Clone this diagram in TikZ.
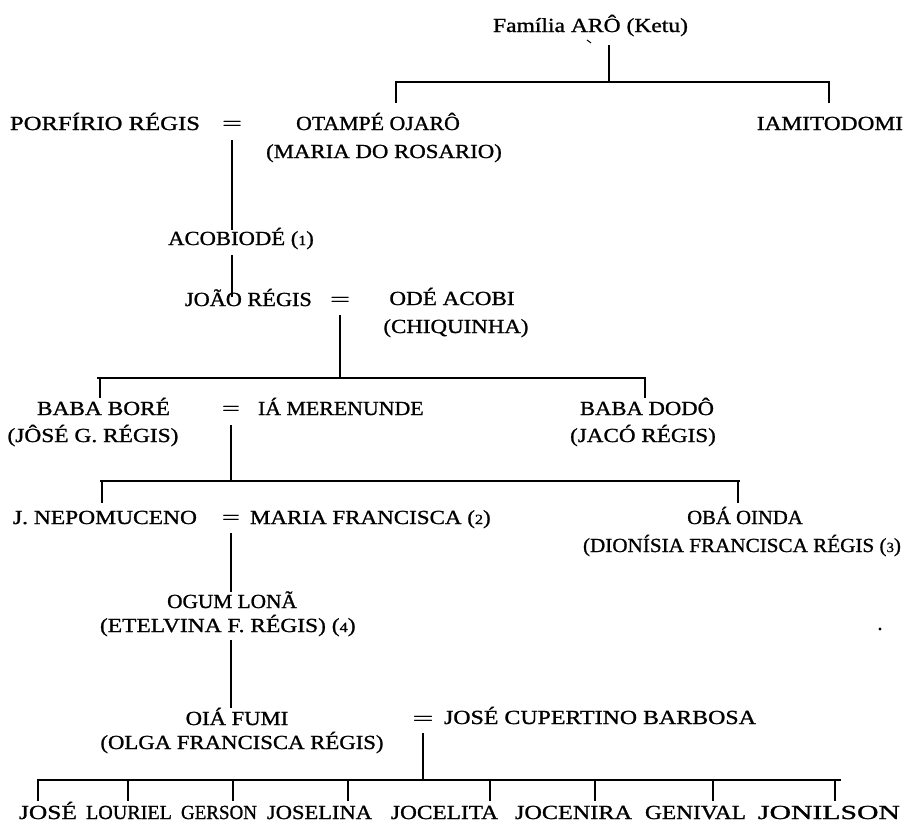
\documentclass[tikz,border=0pt]{standalone}
\usepackage{fontspec}
\setmainfont{Liberation Serif}[FakeBold=1.0]
\usepackage{graphicx}
\newsavebox{\fitbox}
\newlength{\fitl}
% \fitw: stretch towards the target width, halfway from a common 1.13 stretch
\newcommand{\fitw}[2]{\sbox{\fitbox}{#2}\setlength{\fitl}{\wd\fitbox}\pgfmathsetmacro{\fitr}{0.5*#1/\fitl+0.565}\scalebox{\fitr}[1]{\usebox{\fitbox}}}
% \fitx: stretch to exactly the target width
\newcommand{\fitx}[2]{\sbox{\fitbox}{#2}\setlength{\fitl}{\wd\fitbox}\pgfmathsetmacro{\fitr}{#1/\fitl}\scalebox{\fitr}[1]{\usebox{\fitbox}}}
\newcommand{\nm}[1]{{\fontsize{14}{14}\selectfont #1}}
\tikzset{
  lbl/.style={inner sep=0pt, outer sep=0pt, anchor=base, font=\fontsize{20}{22}\selectfont},
  ln/.style={line width=1.3pt, line cap=butt}
}
\begin{document}
\begin{tikzpicture}[x=1pt,y=-1pt]
\useasboundingbox (0,0) rectangle (905,828);
% ---------- text nodes ----------
\node[lbl, anchor=base west] (fam) at (493,32) {\fitx{195}{Família ARÔ (Ketu)}};
\node[lbl, anchor=base west] (porf) at (10,130) {\fitx{190}{PORFÍRIO RÉGIS}};
\node[lbl] (eqA) at (232,130) {\fitx{20}{=}};
\node[lbl] (otampe) at (378,130) {\fitw{158}{OTAMPÉ OJARÔ}};
\node[lbl] (maria) at (384,158) {\fitw{238}{(MARIA DO ROSARIO)}};
\node[lbl, anchor=base east] (iami) at (903,130) {\fitw{151}{IAMITODOMI}};
\node[lbl] (acob) at (241,245) {\fitw{146}{ACOBIODÉ (\nm{1})}};
\node[lbl, anchor=base west] (joao) at (185,306) {\fitw{125}{JOÃO RÉGIS}};
\node[lbl] (eqB) at (340,306) {\fitx{20}{=}};
\node[lbl] (ode) at (452,305) {\fitw{128}{ODÉ ACOBI}};
\node[lbl] (chiq) at (456,333) {\fitw{147}{(CHIQUINHA)}};
\node[lbl, anchor=base west] (baba1) at (37,415) {\fitx{133}{BABA BORÉ}};
\node[lbl] (jose1) at (93,442) {\fitw{177}{(JÔSÉ G. RÉGIS)}};
\node[lbl] (eqC) at (231,415) {\fitx{18}{=}};
\node[lbl, anchor=base west] (ia) at (258,415) {\fitw{160}{IÁ MERENUNDE}};
\node[lbl, anchor=base west] (baba2) at (580,415) {\fitx{134}{BABA DODÔ}};
\node[lbl] (jaco) at (643,442) {\fitw{149}{(JACÓ RÉGIS)}};
\node[lbl, anchor=base west] (nep) at (13,524) {\fitx{184}{J. NEPOMUCENO}};
\node[lbl] (eqD) at (231,524) {\fitx{18}{=}};
\node[lbl, anchor=base west] (mfr) at (250,524) {\fitw{245}{MARIA FRANCISCA (\nm{2})}};
\node[lbl] (oba) at (745,524) {\fitw{105}{OBÁ OINDA}};
\node[lbl, anchor=base east] (dion) at (901,552) {\fitx{318}{(DIONÍSIA FRANCISCA RÉGIS (\nm{3})}};
\node[lbl] (ogum) at (232,608) {\fitw{122}{OGUM LONÃ}};
\node[lbl, anchor=base west] (etel) at (100,632) {\fitw{265}{(ETELVINA F. RÉGIS) (\nm{4})}};
\node[lbl] (oia) at (237,725) {\fitw{103}{OIÁ FUMI}};
\node[lbl] (olga) at (242,749) {\fitw{285}{(OLGA FRANCISCA RÉGIS)}};
\node[lbl] (eqE) at (423,725) {\fitx{21}{=}};
\node[lbl, anchor=base west] (jcb) at (444,724) {\fitx{312}{JOSÉ CUPERTINO BARBOSA}};
\node[lbl, anchor=base west] (c1) at (19,819) {\fitx{58}{JOSÉ}};
\node[lbl, anchor=base west] (c2) at (86,819) {\fitx{86}{LOURIEL}};
\node[lbl, anchor=base west] (c3) at (181,819) {\fitx{76}{GERSON}};
\node[lbl, anchor=base west] (c4) at (267,819) {\fitx{105}{JOSELINA}};
\node[lbl, anchor=base west] (c5) at (391,819) {\fitx{107}{JOCELITA}};
\node[lbl, anchor=base west] (c6) at (515,819) {\fitx{117}{JOCENIRA}};
\node[lbl, anchor=base west] (c7) at (645,819) {\fitx{101}{GENIVAL}};
\node[lbl, anchor=base west] (c8) at (758,819) {\fitx{142}{JONILSON}};
% ---------- connector points ----------
\coordinate (famB) at (609,45);
\coordinate (b1M) at (609,82);
\coordinate (b1L) at (396,82);
\coordinate (b1R) at (829,82);
\coordinate (b1Le) at (395,82);
\coordinate (b1Re) at (830,82);
\coordinate (otT) at (396,103);
\coordinate (iaT) at (829,103);
\coordinate (eqAB) at (232,140);
\coordinate (acT) at (232,230);
\coordinate (acB) at (232,255);
\coordinate (joT) at (232,297);
\coordinate (eqBB) at (340,315);
\coordinate (b2M) at (340,378);
\coordinate (b2L) at (97,378);
\coordinate (b2R) at (646,378);
\coordinate (b2a) at (100,378);
\coordinate (b2b) at (645,378);
\coordinate (bb1T) at (100,398);
\coordinate (bb2T) at (645,398);
\coordinate (eqCB) at (231,425);
\coordinate (b3M) at (231,481);
\coordinate (b3L) at (100,481);
\coordinate (b3R) at (740,481);
\coordinate (b3a) at (102,481);
\coordinate (b3b) at (738,481);
\coordinate (nepT) at (102,503);
\coordinate (obaT) at (738,503);
\coordinate (eqDB) at (231,533);
\coordinate (ogT) at (231,592);
\coordinate (ogB) at (231,640);
\coordinate (oiT) at (231,708);
\coordinate (eqEB) at (423,733);
\coordinate (b4M) at (423,780);
\coordinate (b4L) at (37,780);
\coordinate (b4R) at (841,780);
\foreach \i/\x in {1/38,2/128,3/233,4/348,5/490,6/595,7/713,8/835}{
  \coordinate (k\i) at (\x,780);
  \coordinate (kT\i) at (\x,801);
}
% ---------- connectors ----------
\draw[ln] (famB) -- (b1M);
\draw[ln] (b1Le) -- (b1Re);
\draw[ln] (b1L) -- (otT);
\draw[ln] (b1R) -- (iaT);
\draw[ln] (eqAB) -- (acT);
\draw[ln] (acB) -- (joT);
\draw[ln] (eqBB) -- (b2M);
\draw[ln] (b2L) -- (b2R);
\draw[ln] (b2a) -- (bb1T);
\draw[ln] (b2b) -- (bb2T);
\draw[ln] (eqCB) -- (b3M);
\draw[ln] (b3L) -- (b3R);
\draw[ln] (b3a) -- (nepT);
\draw[ln] (b3b) -- (obaT);
\draw[ln] (eqDB) -- (ogT);
\draw[ln] (ogB) -- (oiT);
\draw[ln] (eqEB) -- (b4M);
\draw[ln] (b4L) -- (b4R);
\foreach \i in {1,...,8}{ \draw[ln] (k\i) -- (kT\i); }
% ---------- small marks printed in the reference ----------
\draw[line width=1pt] (587,40) -- (591,43);
\fill (880,629) circle (1.6);
\end{tikzpicture}
\end{document}
